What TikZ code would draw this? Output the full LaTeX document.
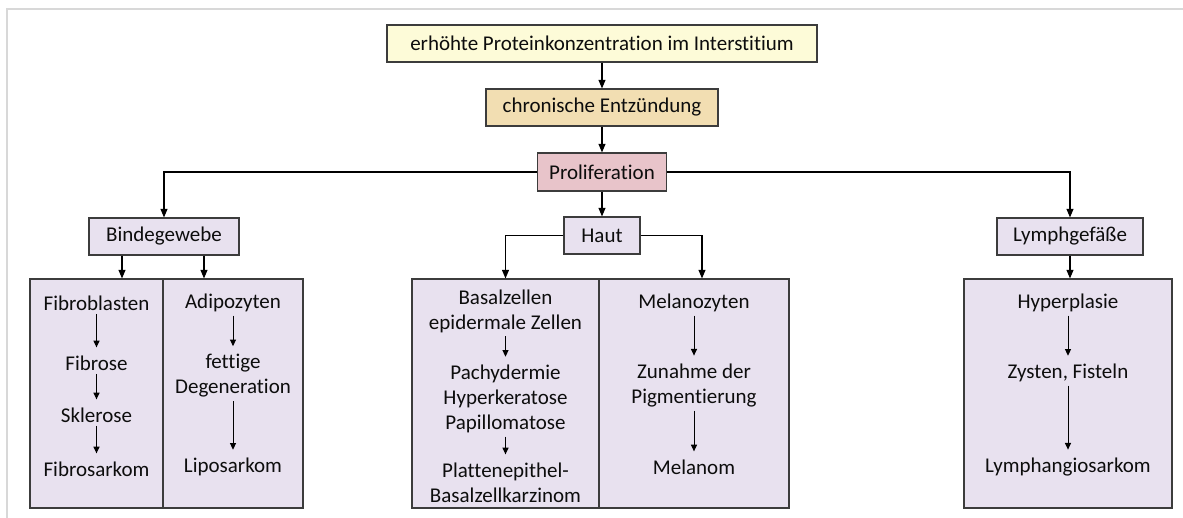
\documentclass[tikz,border=0pt]{standalone}
\usepackage{fontspec}
\setmainfont{Carlito}[Ligatures=NoCommon]
\usepackage{tikz}
\usetikzlibrary{arrows.meta,positioning,calc}

\definecolor{creamyel}{RGB}{253,251,216}
\definecolor{sandtan}{RGB}{242,222,178}
\definecolor{rosepink}{RGB}{232,196,202}
\definecolor{lilac}{RGB}{232,225,239}
\definecolor{edgegray}{RGB}{60,60,60}
\definecolor{framegray}{RGB}{216,216,216}

\begin{document}
\begin{tikzpicture}[
  x=0.75pt, y=-0.75pt,
  every node/.style={font=\fontsize{15.75}{18.75}\selectfont, text=black!95},
  box/.style={draw=edgegray, line width=0.8pt, inner sep=0pt, align=center,
              minimum height=27.75pt},
  tissue/.style={box, fill=lilac},
  panel/.style={draw=edgegray, fill=lilac, line width=0.8pt, inner sep=0pt,
                minimum height=171.75pt},
  item/.style={inner sep=0pt, align=center},
  ar/.style={-{Triangle[length=6.5pt,width=5.25pt]}, line width=0.9pt},
  sub/.style={-{Triangle[length=5pt,width=4.5pt]}, line width=0.75pt,
              shorten <=2.5pt, shorten >=6pt}
]
\useasboundingbox[fill=white] (0,0) rectangle (1183,518);
\draw[framegray, line width=1.5pt] (7,518) -- (7,9) -- (1183,9);

\node[box, fill=creamyel, minimum width=322.5pt] (protein) at (602,43.5)
  {erhöhte Proteinkonzentration im Interstitium};
\node[box, fill=sandtan, minimum width=174pt] (inflam) at (602,107.5)
  {chronische Entzündung};
\node[box, fill=rosepink, minimum width=96.75pt, minimum height=28.5pt] (prolif)
  at (602,172) {Proliferation};
\node[tissue, minimum width=57pt] (skin) at (602,235.5) {Haut};
\node[tissue, minimum width=112.5pt] (conn) at (164,236.5) {Bindegewebe};
\node[tissue, minimum width=109.5pt] (lymph) at (1070,236.5) {Lymphgefäße};

\node[panel, minimum width=99.75pt] (connL) at (96.5,393.5) {};
\node[panel, minimum width=105pt] (connR) at (233,393.5) {};
\node[panel, minimum width=140.25pt] (skinL) at (505.5,393.5) {};
\node[panel, minimum width=142.5pt] (skinR) at (694,393.5) {};
\node[panel, minimum width=156pt] (lymphP) at (1068,393.5) {};

\node[item] (fibro) at (96.5,303) {Fibroblasten};
\node[item] (fibrose) at (96.5,363) {Fibrose};
\node[item] (skler) at (96.5,415) {Sklerose};
\node[item] (fsark) at (96.5,469) {Fibrosarkom};

\node[item] (adipo) at (233,303) {Adipozyten};
\node[item] (fett) at (233,376) {fettige\\Degeneration};
\node[item] (lipo) at (233,467) {Liposarkom};

\node[item] (basal) at (505.5,311) {Basalzellen\\epidermale Zellen};
\node[item] (pachy) at (505.5,399) {Pachydermie\\Hyperkeratose\\Papillomatose};
\node[item] (karz) at (505.5,482.5) {Plattenepithel-\\Basalzellkarzinom};

\node[item] (melano) at (694,303) {Melanozyten};
\node[item] (pigm) at (694,385.5) {Zunahme der\\Pigmentierung};
\node[item] (melanom) at (694,467) {Melanom};

\node[item] (hyper) at (1068,303) {Hyperplasie};
\node[item] (zyst) at (1068,373) {Zysten, Fisteln};
\node[item] (lsark) at (1068,467) {Lymphangiosarkom};

\coordinate (c1) at ($(conn.south)+(-42,0)$);
\coordinate (c2) at ($(conn.south)+(40,0)$);

\draw[ar] (protein) -- (inflam); \draw[ar] (inflam) -- (prolif);
\draw[ar] (prolif) -- (skin);
\draw[ar] (prolif.west) -| (conn.north); \draw[ar] (prolif.east) -| (lymph.north);
\draw[ar] (skin.west) -| (skinL.north);
\draw[ar] (skin.east) -| ($(skinR.north)+(8,0)$);
\draw[ar] (c1) -- (c1 |- connL.north); \draw[ar] (c2) -- (c2 |- connR.north);
\draw[ar] (lymph.south) -- (lymph.south |- lymphP.north);

\draw[sub] (fibro) -- (fibrose); \draw[sub] (fibrose) -- (skler);
\draw[sub] (skler) -- (fsark);
\draw[sub] (adipo) -- (fett); \draw[sub] (fett) -- (lipo);
\draw[sub] (basal) -- (pachy); \draw[sub] (pachy) -- (karz);
\draw[sub] (melano) -- (pigm); \draw[sub] (pigm) -- (melanom);
\draw[sub] (hyper) -- (zyst); \draw[sub] (zyst) -- (lsark);
\end{tikzpicture}
\end{document}
